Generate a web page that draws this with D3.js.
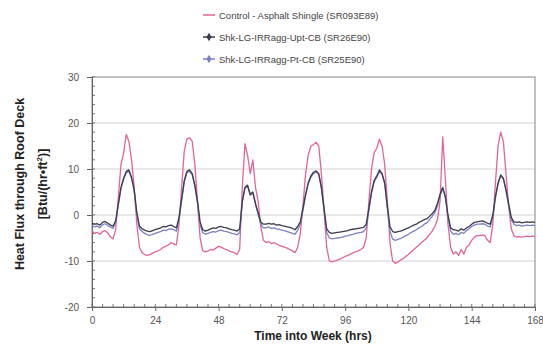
<!DOCTYPE html>
<html><head><meta charset="utf-8">
<script src="https://cdn.jsdelivr.net/npm/d3@7"></script>
<style>body{margin:0;background:#fff}svg{display:block;font-family:Arial,"Liberation Sans",sans-serif}</style>
</head><body><svg id="c" width="543" height="354"></svg>
<script>
const seriesNames = ["Control - Asphalt Shingle (SR093E89)", "Shk-LG-IRRagg-Upt-CB (SR26E90)", "Shk-LG-IRRagg-Pt-CB (SR25E90)"];
const xTicks = [0, 24, 48, 72, 96, 120, 144, 168];
const yTicks = [-20, -10, 0, 10, 20, 30];
const control = [-3.5,-4.0,-3.8,-4.2,-3.6,-3.4,-3.9,-4.8,-5.2,-3.0,4.0,11.0,13.5,17.5,16.0,12.0,6.0,-2.0,-7.0,-8.2,-8.6,-8.8,-8.6,-8.3,-8.0,
-7.8,-7.5,-7.0,-6.8,-6.5,-6.0,-6.3,-6.5,-2.0,6.0,14.0,16.5,16.8,16.0,11.0,3.0,-5.0,-7.8,-8.0,-7.8,-7.5,-7.6,-7.2,-6.8,
-7.0,-7.3,-7.5,-7.8,-8.0,-8.2,-8.6,-7.5,6.0,15.5,13.0,9.0,12.0,6.0,3.0,-2.5,-5.5,-6.0,-5.8,-6.2,-6.0,-6.3,-6.6,-6.8,
-7.0,-7.2,-7.5,-7.8,-8.2,-7.0,-4.0,2.0,9.0,13.0,15.0,15.3,15.8,15.0,9.0,1.0,-7.0,-10.0,-10.2,-10.0,-9.8,-9.6,-9.3,-9.0,
-8.8,-8.5,-8.2,-8.0,-7.8,-7.5,-7.0,-5.0,3.0,10.0,13.5,14.5,16.5,15.0,11.0,3.0,-6.0,-10.0,-10.5,-10.2,-9.8,-9.5,-9.0,-8.6,
-8.0,-7.5,-7.0,-6.5,-6.0,-5.5,-5.0,-4.2,-3.5,-2.5,-1.0,3.0,17.0,8.0,-2.0,-7.0,-8.5,-8.0,-8.8,-7.5,-8.5,-7.0,-6.5,-5.5,
-4.8,-4.5,-4.5,-4.3,-4.5,-5.5,-6.0,-2.0,7.0,15.0,18.0,16.0,9.0,2.0,-3.0,-4.5,-4.8,-4.7,-4.8,-4.7,-4.6,-4.7,-4.6,-4.7];
const upt = [-1.8,-2.0,-1.9,-2.2,-1.6,-1.4,-1.8,-2.2,-2.4,-1.2,2.5,6.0,8.0,9.5,9.8,8.2,5.5,0.5,-2.4,-3.0,-3.3,-3.5,-3.6,-3.4,-3.2,
-3.0,-2.8,-2.5,-2.6,-2.3,-2.2,-2.5,-2.8,-0.5,3.5,7.5,9.5,9.8,9.0,6.5,3.0,-1.5,-3.2,-3.5,-3.3,-3.0,-2.8,-2.9,-2.6,
-2.5,-2.7,-2.8,-3.0,-3.2,-3.3,-3.5,-3.0,3.0,6.0,6.5,4.5,5.0,2.5,0.5,-1.5,-2.0,-2.0,-1.8,-2.0,-1.9,-2.2,-2.1,-2.3,
-2.4,-2.6,-2.7,-2.9,-3.2,-2.5,-1.5,1.5,4.5,7.0,8.5,9.3,9.6,9.0,6.0,1.5,-3.0,-3.8,-4.0,-3.9,-3.8,-3.7,-3.6,-3.5,
-3.4,-3.2,-3.1,-3.0,-2.9,-2.8,-2.7,-2.0,1.5,5.0,7.5,8.5,9.8,9.0,7.0,2.0,-2.5,-3.6,-3.8,-3.6,-3.5,-3.3,-3.0,-2.8,
-2.5,-2.2,-2.0,-1.6,-1.3,-1.0,-0.8,-0.3,0.3,1.0,2.5,4.5,6.0,4.0,0.0,-2.8,-3.2,-3.3,-3.5,-3.0,-3.3,-2.8,-2.5,-2.0,
-1.6,-1.5,-1.4,-1.3,-1.5,-1.8,-2.0,0.0,4.0,7.0,8.7,8.0,5.5,2.5,-0.5,-1.5,-1.6,-1.5,-1.7,-1.6,-1.5,-1.6,-1.5,-1.6];
const pt = [-2.3,-2.6,-2.4,-2.8,-2.1,-1.9,-2.3,-2.6,-2.9,-1.5,2.2,5.8,7.8,9.2,9.5,8.0,5.2,0.0,-3.0,-3.6,-4.0,-4.3,-4.4,-4.2,-4.0,
-3.8,-3.6,-3.3,-3.4,-3.1,-3.0,-3.2,-3.5,-1.0,3.2,7.2,9.2,9.5,8.8,6.3,2.7,-2.2,-3.8,-4.2,-4.0,-3.8,-3.6,-3.7,-3.4,
-3.3,-3.5,-3.6,-3.8,-4.0,-4.1,-4.3,-3.8,2.8,5.8,6.2,4.3,4.8,2.3,0.2,-2.0,-2.8,-2.8,-2.6,-2.9,-2.8,-3.0,-3.1,-3.3,
-3.4,-3.6,-3.8,-4.0,-4.2,-3.3,-2.0,1.0,4.2,6.8,8.2,9.0,9.4,8.8,5.8,1.0,-3.8,-5.0,-5.2,-5.1,-5.0,-4.9,-4.8,-4.6,
-4.5,-4.3,-4.2,-4.0,-3.9,-3.8,-3.6,-2.8,1.0,4.8,7.2,8.2,9.5,8.8,6.8,1.5,-3.5,-5.2,-5.5,-5.3,-5.1,-4.8,-4.5,-4.2,
-3.8,-3.5,-3.2,-2.8,-2.5,-2.0,-1.7,-1.0,-0.3,0.5,2.0,4.2,5.8,3.8,-0.5,-3.5,-4.2,-4.0,-4.3,-3.8,-4.0,-3.4,-3.0,-2.5,
-2.2,-2.0,-2.0,-1.9,-2.0,-2.4,-2.6,-0.5,3.8,6.8,8.5,7.8,5.3,2.0,-1.0,-2.0,-2.3,-2.2,-2.4,-2.3,-2.2,-2.3,-2.2,-2.3];
const colors = ["#e2659c", "#3b3b4c", "#7b80c6"];

const svg = d3.select("#c");
const L = 92, R = 535, T = 77, B = 307;
const x = d3.scaleLinear().domain([0, 168]).range([L, R]);
const y = d3.scaleLinear().domain([-20, 30]).range([B, T]);

// gridlines
svg.append("g").selectAll("line").data(yTicks.filter(v => v > -20 && v < 30)).join("line")
  .attr("x1", L).attr("x2", R).attr("y1", d => y(d)).attr("y2", d => y(d))
  .attr("stroke", "#d2d2d2").attr("stroke-width", 1);

// frame
svg.append("rect").attr("x", L).attr("y", T).attr("width", R - L).attr("height", B - T)
  .attr("fill", "none").attr("stroke", "#9a9a9a").attr("stroke-width", 1.2);

// minor ticks
svg.append("g").selectAll("line").data(d3.range(-20, 31, 2)).join("line")
  .attr("x1", L).attr("x2", L + 3).attr("y1", d => y(d)).attr("y2", d => y(d)).attr("stroke", "#777");
svg.append("g").selectAll("line").data(d3.range(0, 169, 4)).join("line")
  .attr("x1", d => x(d)).attr("x2", d => x(d)).attr("y1", B).attr("y2", B - 3).attr("stroke", "#777");

// axes
const ya = svg.append("g").attr("transform", `translate(${L},0)`)
  .call(d3.axisLeft(y).tickValues(yTicks).tickSize(5).tickPadding(8).tickFormat(d => String(d)));
const xa = svg.append("g").attr("transform", `translate(0,${B})`)
  .call(d3.axisBottom(x).tickValues(xTicks).tickSize(4).tickPadding(6).tickFormat(d => String(d)));
[ya, xa].forEach(a => {
  a.select(".domain").attr("stroke", "#666");
  a.selectAll(".tick line").attr("stroke", "#666");
  a.selectAll("text").attr("font-size", 10).attr("fill", "#555").attr("font-family", "Arial, 'Liberation Sans', sans-serif");
});

// lines
const line = d3.line().x((d, i) => x(i)).y(d => y(d));
[control, pt, upt].forEach((s) => {
  const ci = s === control ? 0 : (s === upt ? 1 : 2);
  svg.append("path").datum(s).attr("d", line).attr("fill", "none")
    .attr("stroke", colors[ci]).attr("stroke-width", 1.3).attr("stroke-linejoin", "round");
});

// legend
const lg = svg.append("g");
seriesNames.forEach((n, i) => {
  const yy = 15 + i * 22;
  lg.append("line").attr("x1", 203).attr("x2", 215).attr("y1", yy).attr("y2", yy)
    .attr("stroke", colors[i]).attr("stroke-width", 1.5);
  if (i > 0) lg.append("path").attr("d", d3.symbol(d3.symbolDiamond, 22)())
    .attr("transform", `translate(209,${yy})`).attr("fill", colors[i]);
  lg.append("text").attr("x", 219).attr("y", yy + 3.5).attr("font-size", 9.5).attr("fill", "#444").text(n);
});

// titles
svg.append("text").attr("x", 313).attr("y", 340).attr("text-anchor", "middle")
  .attr("font-size", 12).attr("font-weight", "bold").attr("fill", "#222").text("Time into Week (hrs)");
const yt = svg.append("g").attr("transform", "translate(0,184) rotate(-90)");
yt.append("text").attr("x", 0).attr("y", 24).attr("text-anchor", "middle")
  .attr("font-size", 12.5).attr("font-weight", "bold").attr("fill", "#222").text("Heat Flux through Roof Deck");
const t2 = yt.append("text").attr("x", 0).attr("y", 47).attr("text-anchor", "middle")
  .attr("font-size", 12.5).attr("font-weight", "bold").attr("fill", "#222");
t2.append("tspan").text("[Btu/(hr•ft");
t2.append("tspan").attr("font-size", 8).attr("dy", -5).text("2");
t2.append("tspan").attr("dy", 5).text(")]");
</script></body></html>
